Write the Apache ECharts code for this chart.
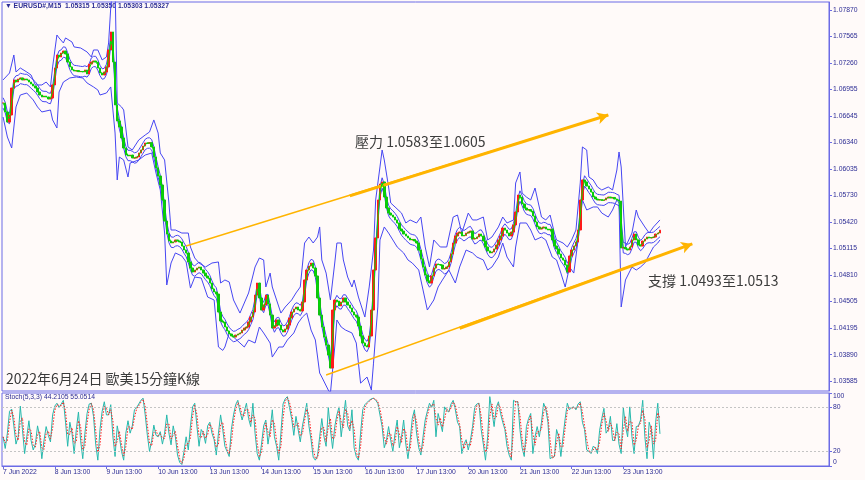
<!DOCTYPE html>
<html><head><meta charset="utf-8">
<script src="https://cdn.jsdelivr.net/npm/echarts@6/dist/echarts.min.js"></script>
<style>html,body{margin:0;padding:0;background:#fffaf9;}#c{width:865px;height:480px;}</style>
</head><body><div id="c"></div>
<script>
// ---------------- DATA ----------------
const tradingDays = ['7 Jun','8 Jun','9 Jun','10 Jun','13 Jun','14 Jun','15 Jun','16 Jun','17 Jun','20 Jun','21 Jun','22 Jun','23 Jun','24 Jun'];
const firstHour = 13;   // first hourly bar: 7 Jun 13:00
const lastHour = 6;     // last hourly bar: 24 Jun 06:00
const totalSlots = 384; // hourly slots across the plot incl. right-side shift

// hourly closes (EURUSD)
const closes = [
1.06796,1.06692,1.06576,1.06657,1.06969,1.07062,1.07038,1.07073,1.07085,1.07062,
1.07073,1.07062,1.07038,1.07015,1.06992,1.06969,1.06923,1.06888,1.06865,1.06876,
1.06865,1.06842,1.06853,1.07004,1.07200,1.07350,1.07327,1.07373,1.07396,1.07362,
1.07269,1.07212,1.07177,1.07165,1.07170,1.07158,1.07160,1.07154,1.07177,1.07131,
1.07246,1.07269,1.07281,1.07269,1.07200,1.07142,1.07119,1.07154,1.07212,1.07408,
1.07616,1.07269,1.06773,1.06588,1.06519,1.06392,1.06276,1.06195,1.06184,1.06195,
1.06161,1.06161,1.06172,1.06218,1.06253,1.06299,1.06334,1.06330,1.06338,1.06288,
1.06172,1.06045,1.05953,1.05849,1.05676,1.05433,1.05283,1.05202,1.05179,1.05191,
1.05214,1.05202,1.05191,1.05144,1.05098,1.05064,1.04960,1.04890,1.04844,1.04867,
1.04890,1.04902,1.04867,1.04832,1.04798,1.04775,1.04717,1.04648,1.04613,1.04590,
1.04382,1.04278,1.04267,1.04209,1.04163,1.04128,1.04105,1.04093,1.04116,1.04128,
1.04140,1.04174,1.04197,1.04209,1.04267,1.04324,1.04382,1.04578,1.04717,1.04544,
1.04405,1.04463,1.04578,1.04475,1.04347,1.04197,1.04220,1.04290,1.04232,1.04174,
1.04151,1.04186,1.04232,1.04313,1.04382,1.04417,1.04440,1.04405,1.04394,1.04498,
1.04752,1.04867,1.04913,1.04948,1.04890,1.04798,1.04544,1.04347,1.04209,1.04093,
1.04001,1.03885,1.03735,1.04405,1.04521,1.04509,1.04452,1.04498,1.04544,1.04498,
1.04463,1.04429,1.04382,1.04347,1.04324,1.04220,1.04105,1.04024,1.03989,1.03978,
1.04105,1.04405,1.04867,1.05237,1.05676,1.05860,1.05884,1.05710,1.05583,1.05525,
1.05502,1.05479,1.05445,1.05410,1.05340,1.05317,1.05283,1.05260,1.05237,1.05214,
1.05220,1.05202,1.05179,1.05098,1.04994,1.04902,1.04809,1.04740,1.04717,1.04798,
1.04890,1.04937,1.04930,1.04925,1.04879,1.04885,1.04902,1.04960,1.05052,1.05179,
1.05260,1.05294,1.05306,1.05260,1.05265,1.05294,1.05306,1.05317,1.05225,1.05230,
1.05248,1.05283,1.05260,1.05202,1.05133,1.05087,1.05064,1.05075,1.05110,1.05156,
1.05214,1.05260,1.05352,1.05329,1.05294,1.05260,1.05306,1.05387,1.05537,1.05733,
1.05710,1.05629,1.05583,1.05560,1.05565,1.05548,1.05491,1.05421,1.05364,1.05340,
1.05352,1.05364,1.05340,1.05329,1.05340,1.05214,1.05144,1.05110,1.05052,1.05006,
1.04983,1.04925,1.04844,1.05029,1.05098,1.05144,1.05191,1.05329,1.05676,1.05907,
1.05884,1.05837,1.05803,1.05768,1.05710,1.05687,1.05676,1.05680,1.05670,1.05676,
1.05699,1.05710,1.05699,1.05705,1.05687,1.05676,1.05664,1.05121,1.05128,1.05110,
1.05098,1.05133,1.05214,1.05283,1.05214,1.05156,1.05144,1.05202,1.05225,1.05248,
1.05237,1.05242,1.05248,1.05283,1.05294,1.05327
];

// outer Bollinger band: [slot index, price]
const bandUpper = [
[0,1.07062],[3,1.07142],[5,1.07350],[6,1.07154],[8,1.07200],[11,1.07154],[13,1.07119],[15,1.07004],[18,1.07004],[20,1.07038],
[22,1.06981],[23,1.07212],[25,1.07581],[26,1.07547],[28,1.07489],[29,1.07547],[32,1.07500],[33,1.07443],[36,1.07431],[39,1.07385],
[41,1.07327],[42,1.07408],[44,1.07408],[46,1.07293],[48,1.07327],[49,1.07489],[50,1.0790],[51,1.0815],[52,1.0815],[53,1.06796],
[55,1.06750],[56,1.06715],[58,1.06288],[60,1.06253],[63,1.06369],[66,1.06426],[68,1.06461],[70,1.06600],[72,1.06449],[73,1.06218],
[75,1.06138],[77,1.05641],[78,1.05329],[80,1.05329],[83,1.05294],[86,1.05294],[87,1.05133],[89,1.05006],[91,1.04948],[94,1.04902],
[97,1.04948],[100,1.04960],[101,1.04717],[103,1.04752],[105,1.04729],[107,1.04521],[110,1.04370],[112,1.04486],[114,1.04602],[117,1.04902],
[119,1.05006],[121,1.04983],[122,1.04671],[124,1.04832],[125,1.04671],[127,1.04521],[129,1.04370],[131,1.04440],[134,1.04521],[136,1.04602],
[138,1.04671],[140,1.05179],[142,1.05248],[144,1.05179],[146,1.05248],[147,1.05364],[148,1.04983],[150,1.04832],[152,1.04521],[154,1.04948],
[155,1.05179],[157,1.05179],[158,1.04983],[160,1.04786],[162,1.04671],[163,1.04752],[165,1.04555],[168,1.04324],[170,1.04671],[172,1.05098],
[173,1.05676],[175,1.06057],[176,1.06253],[177,1.06138],[179,1.05826],[180,1.05641],[182,1.05595],[185,1.05525],[187,1.05410],[189,1.05445],
[192,1.05410],[194,1.05479],[196,1.05133],[198,1.04902],[200,1.05214],[203,1.05133],[206,1.05133],[209,1.05479],[211,1.05502],[213,1.05294],
[216,1.05525],[218,1.05445],[220,1.05445],[223,1.05479],[225,1.05214],[227,1.05248],[230,1.05364],[232,1.05479],[234,1.05410],[237,1.05445],
[238,1.05872],[240,1.05999],[241,1.05756],[243,1.05710],[245,1.05676],[247,1.05814],[250,1.05479],[252,1.05445],[254,1.05502],[256,1.05294],
[257,1.05214],[260,1.05179],[262,1.05133],[264,1.05214],[266,1.05329],[268,1.05872],[269,1.06288],[271,1.06253],[272,1.05941],[274,1.05907],
[276,1.05826],[278,1.05791],[281,1.05826],[283,1.05791],[285,1.06022],[286,1.06230],[287,1.06057],[289,1.05133],[292,1.05294],[294,1.05560],
[295,1.05479],[298,1.05364],[300,1.05294],[302,1.05364],[305,1.05445]
];
const bandLower = [
[0,1.06634],[2,1.06403],[4,1.06276],[6,1.06750],[8,1.06888],[11,1.06911],[14,1.06831],[16,1.06750],[18,1.06692],[22,1.06715],
[23,1.06600],[25,1.06507],[26,1.06923],[28,1.07038],[31,1.07085],[34,1.07096],[37,1.07085],[39,1.07027],[42,1.06981],[44,1.06946],
[45,1.06888],[48,1.06911],[50,1.06981],[52,1.06449],[53,1.05907],[54,1.06172],[56,1.06138],[58,1.05941],[59,1.06103],[63,1.06138],
[66,1.06195],[69,1.06218],[71,1.05987],[73,1.05791],[75,1.05294],[76,1.04694],[78,1.04948],[80,1.05064],[83,1.05029],[85,1.04960],
[87,1.04659],[89,1.04786],[92,1.04775],[95,1.04555],[98,1.04521],[100,1.03978],[102,1.03939],[103,1.03978],[105,1.04140],[107,1.04093],
[110,1.04024],[112,1.03978],[114,1.04059],[117,1.04024],[119,1.04209],[121,1.04140],[124,1.04024],[125,1.03862],[128,1.03978],[130,1.03978],
[132,1.04059],[135,1.04140],[137,1.04255],[139,1.04324],[141,1.04370],[143,1.04174],[145,1.04059],[147,1.03677],[148,1.03631],[151,1.03481],
[152,1.03446],[154,1.03978],[155,1.04290],[157,1.04209],[159,1.04174],[162,1.04140],[164,1.04024],[166,1.03561],[169,1.03631],[171,1.03481],
[172,1.03792],[174,1.04440],[175,1.05214],[177,1.05364],[179,1.05294],[181,1.05214],[183,1.05133],[186,1.05064],[188,1.04983],[190,1.04948],
[193,1.04867],[195,1.04636],[197,1.04405],[200,1.04521],[202,1.04671],[204,1.04752],[207,1.04867],[210,1.04717],[212,1.04902],[215,1.05098],
[218,1.05064],[220,1.05017],[223,1.04983],[225,1.04867],[227,1.04902],[230,1.05017],[232,1.05179],[234,1.05017],[237,1.04902],[238,1.05133],
[240,1.05410],[243,1.05410],[245,1.05329],[247,1.05214],[250,1.05248],[252,1.05214],[255,1.05017],[257,1.04983],[259,1.04832],[261,1.04671],
[263,1.04902],[265,1.04832],[267,1.05214],[269,1.05676],[271,1.05560],[274,1.05595],[276,1.05595],[278,1.05525],[281,1.05479],[283,1.05560],
[285,1.05676],[286,1.05641],[287,1.04440],[289,1.04752],[292,1.04902],[294,1.04867],[296,1.04902],[298,1.04948],[302,1.05133],[304,1.05179],
[305,1.05214]
];

// Stochastic %K
const stochK = [
40,24,45,75,78,55,30,40,82,50, 17,40,62,35,22,30,55,40,10,35,
54,42,33,70,82,86,80,85,90,60, 27,60,45,17,50,74,35,10,45,72,
85,86,68,30,8,50,75,88,70,70, 84,40,13,55,40,20,8,45,62,45,
55,77,80,85,90,93,70,42,20,35, 56,42,40,47,30,45,70,45,29,55,
40,15,5,2,20,40,22,55,81,86, 55,27,50,45,31,55,60,45,36,15,
45,70,50,27,20,13,50,70,84,90, 75,63,75,86,65,54,86,45,17,8,
30,55,63,30,50,77,40,27,8,45, 85,92,95,80,65,42,68,50,33,55,
70,86,55,36,12,8,14,40,65,40, 27,80,50,24,54,70,81,40,65,90,
55,48,77,25,13,8,45,77,84,87, 90,92,93,90,86,70,54,25,35,54,
35,20,45,63,25,40,63,30,10,35, 65,77,45,25,15,40,63,75,86,80,
90,40,72,60,47,81,76,74,85,90, 77,60,54,17,30,36,22,35,54,81,
85,86,50,30,8,40,95,75,54,80, 88,72,60,50,27,15,8,90,88,88,
50,25,13,54,65,72,17,40,54,40, 60,86,78,60,10,12,13,50,40,13,
40,65,86,77,80,81,77,85,88,60, 50,22,20,17,27,25,17,49,65,79,
45,50,68,35,35,58,30,17,80,55, 40,81,40,17,54,55,63,90,40,10,
60,50,10,60,86,44
];

const priceTicks = [1.03585,1.03890,1.04195,1.04505,1.04810,1.05115,1.05420,1.05730,1.06035,1.06340,1.06645,1.06955,1.07260,1.07565,1.07870];
const priceMin = 1.03470, priceMax = 1.07962;
const lastPrice = 1.05327;
const timeTickAt = ['7 Jun 13:00','8 Jun 13:00','9 Jun 13:00','10 Jun 13:00','13 Jun 13:00','14 Jun 13:00','15 Jun 13:00','16 Jun 13:00','17 Jun 13:00','20 Jun 13:00','21 Jun 13:00','22 Jun 13:00','23 Jun 13:00'];
const timeTickLabels = ['7 Jun 2022','8 Jun 13:00','9 Jun 13:00','10 Jun 13:00','13 Jun 13:00','14 Jun 13:00','15 Jun 13:00','16 Jun 13:00','17 Jun 13:00','20 Jun 13:00','21 Jun 13:00','22 Jun 13:00','23 Jun 13:00'];
const stochTicks = [0,20,80,100];
const stochLevels = [20,80];
const envelopeDev = 0.0006;
// trend lines: [slot index, price]
const resistLine = [[85,1.05144],[281,1.06657]];
const resistArrow = [[161,1.05724],[281,1.06657]];
const supportLine = [[150,1.03655],[320,1.05168]];
const supportArrow = [[212,1.04195],[320,1.05168]];

// ---------------- BUILD ----------------
const cats = [];
tradingDays.forEach((d, di) => {
  const h0 = di === 0 ? firstHour : 0;
  const h1 = di === tradingDays.length - 1 ? lastHour : 23;
  for (let h = h0; h <= h1; h++) cats.push(d + ' ' + (h < 10 ? '0' : '') + h + ':00');
});
while (cats.length < totalSlots) cats.push('');
const tickIdx = new Map(timeTickAt.map((t, k) => [cats.indexOf(t), timeTickLabels[k]]));

const ohlc = closes.map((c, i) => {
  const o = i === 0 ? c : closes[i - 1];
  return [o, c, Math.min(o, c), Math.max(o, c)];
});
function sma(arr, n) { return arr.map((_, i) => { const a = Math.max(0, i - n + 1); let s = 0; for (let k = a; k <= i; k++) s += arr[k]; return s / (i - a + 1); }); }
const ma = sma(closes, 2);
const envMid = sma(closes, 2);
const stochD = sma(stochK, 2);

const AX = '#6b6be6', TX = '#2c2c94', FONT = 'Liberation Sans';
const blue = '#4646f2';
const chart = echarts.init(document.getElementById('c'), null, { renderer: 'canvas' });
const lineS = (data, color, extra) => Object.assign({ type: 'line', xAxisIndex: 0, yAxisIndex: 0, data, showSymbol: false, symbol: 'none', silent: true, animation: false, lineStyle: { color, width: 1 }, z: 3 }, extra || {});
const tlMark = (pts, w, arrow) => ({ silent: true, symbol: arrow ? ['none', 'arrow'] : ['none', 'none'], symbolSize: [9, 11], label: { show: false },
  lineStyle: { color: '#ffb400', width: w, type: 'solid' }, data: [[{ coord: pts[0] }, { coord: pts[1] }]] });

chart.setOption({
  animation: false,
  backgroundColor: '#fffaf9',
  grid: [
    { left: 2, top: 2, width: 827, height: 389, show: true, borderColor: AX, borderWidth: 1, backgroundColor: 'transparent' },
    { left: 2, top: 393, width: 827, height: 73, show: true, borderColor: AX, borderWidth: 1, backgroundColor: 'transparent' }
  ],
  xAxis: [
    { type: 'category', gridIndex: 0, data: cats, boundaryGap: true, axisLine: { show: false }, axisTick: { show: false }, axisLabel: { show: false }, splitLine: { show: false } },
    { type: 'category', gridIndex: 1, data: cats, boundaryGap: true, axisLine: { show: true, lineStyle: { color: AX } },
      axisTick: { show: true, alignWithLabel: true, length: 3, lineStyle: { color: AX }, interval: (i) => tickIdx.has(i) },
      axisLabel: { show: true, interval: (i) => tickIdx.has(i), formatter: (v, i) => tickIdx.get(i) || '', align: 'left', color: TX, fontSize: 6.8, fontFamily: FONT, margin: 3 },
      splitLine: { show: false } }
  ],
  yAxis: [
    { type: 'value', gridIndex: 0, position: 'right', min: priceMin, max: priceMax, scale: true,
      axisLine: { show: true, lineStyle: { color: AX } },
      axisTick: { show: true, length: 3, lineStyle: { color: AX }, customValues: priceTicks },
      axisLabel: { show: true, customValues: priceTicks, formatter: v => v.toFixed(5), color: TX, fontSize: 6.8, fontFamily: FONT, margin: 4 },
      splitLine: { show: false } },
    { type: 'value', gridIndex: 1, position: 'right', min: 0, max: 100,
      axisLine: { show: true, lineStyle: { color: AX } },
      axisTick: { show: true, length: 3, lineStyle: { color: AX }, customValues: stochTicks },
      axisLabel: { show: true, customValues: stochTicks, color: TX, fontSize: 6.8, fontFamily: FONT, margin: 4, verticalAlignMaxLabel: 'top', verticalAlignMinLabel: 'bottom' },
      splitLine: { show: false } }
  ],
  series: [
    lineS(bandUpper, blue),
    lineS(bandLower, blue),
    lineS(envMid.map(v => v + envelopeDev), blue),
    lineS(envMid.map(v => v - envelopeDev), blue),
    { type: 'candlestick', xAxisIndex: 0, yAxisIndex: 0, data: ohlc, barWidth: 2, silent: true, z: 4,
      itemStyle: { color: '#ff1a1a', color0: '#10c010', borderColor: '#ff1a1a', borderColor0: '#10c010', borderWidth: 1 },
      markLine: { silent: true, symbol: ['none', 'none'], lineStyle: { opacity: 0 },
        label: { show: true, position: 'end', formatter: () => lastPrice.toFixed(5), color: '#ffffff', backgroundColor: '#1414a8', fontSize: 6.8, fontFamily: FONT, padding: [1, 3, 1, 3], distance: 1 },
        data: [{ yAxis: lastPrice }] } },
    lineS(ma, '#00e000', { z: 5 }),
    { type: 'line', xAxisIndex: 0, yAxisIndex: 0, data: [], z: 6, markLine: tlMark(resistLine, 1.4, false) },
    { type: 'line', xAxisIndex: 0, yAxisIndex: 0, data: [], z: 6, markLine: tlMark(resistArrow, 3, true) },
    { type: 'line', xAxisIndex: 0, yAxisIndex: 0, data: [], z: 6, markLine: tlMark(supportLine, 1.4, false) },
    { type: 'line', xAxisIndex: 0, yAxisIndex: 0, data: [], z: 6, markLine: tlMark(supportArrow, 3, true) },
    { type: 'line', xAxisIndex: 1, yAxisIndex: 1, data: stochK, showSymbol: false, symbol: 'none', silent: true, lineStyle: { color: '#27b8ac', width: 1 },
      markLine: { silent: true, symbol: ['none', 'none'], label: { show: false }, lineStyle: { color: '#c4c4c4', type: [2, 2], width: 1 }, data: stochLevels.map(v => ({ yAxis: v })) } },
    { type: 'line', xAxisIndex: 1, yAxisIndex: 1, data: stochD, showSymbol: false, symbol: 'none', silent: true, lineStyle: { color: '#ff2020', width: 1, type: [1.5, 1.5] } }
  ],
  graphic: [
    { type: 'text', left: 5, top: 3, style: { text: '▼ EURUSD#,M15  1.05315 1.05350 1.05303 1.05327', fill: TX, font: 'bold 6.8px "Liberation Sans"' } },
    { type: 'text', left: 5, top: 394, style: { text: 'Stoch(5,3,3) 44.2105 55.0514', fill: TX, font: '6.8px "Liberation Sans"' } },
    { type: 'text', left: 6, top: 372, style: { text: '2022年6月24日 歐美15分鐘K線', fill: '#3a3a3a', font: '14px "Noto Sans CJK TC"' } },
    { type: 'text', left: 355, top: 135, style: { text: '壓力 1.0583至1.0605', fill: '#3c3c3c', font: '14px "Noto Sans CJK TC"' } },
    { type: 'text', left: 648, top: 274, style: { text: '支撐 1.0493至1.0513', fill: '#3c3c3c', font: '14px "Noto Sans CJK TC"' } }
  ]
});
</script></body></html>
